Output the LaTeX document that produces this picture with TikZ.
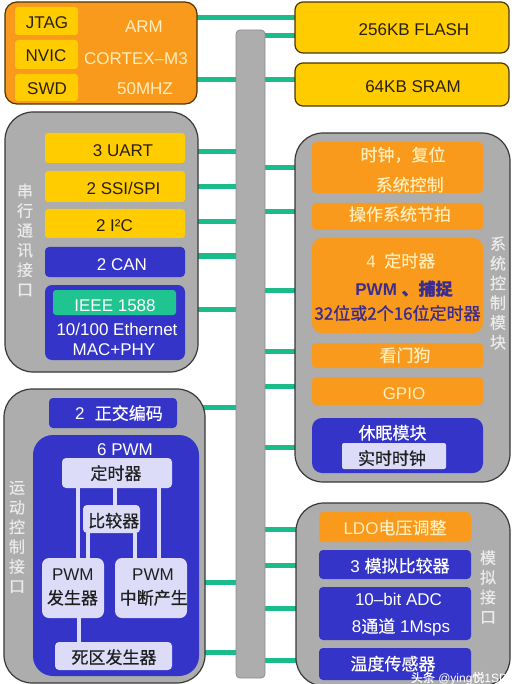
\documentclass[tikz,border=0pt]{standalone}
\usepackage{fontspec}
\setmainfont{Liberation Sans}
\newfontfamily\cjk{Noto Sans CJK SC}[FakeBold=0.5]
\newfontfamily\cjkb{Noto Sans CJK SC}[FakeBold=1.2]
\usetikzlibrary{calc,backgrounds}
\definecolor{orng}{HTML}{F99A1C}
\definecolor{ylw}{HTML}{FFCC00}
\definecolor{blu}{HTML}{3434C8}
\definecolor{gry}{HTML}{ADADAD}
\definecolor{grn}{HTML}{1ABC8C}
\definecolor{lav}{HTML}{DCDCF8}
\definecolor{cream}{HTML}{FFEDBC}
\definecolor{dtxt}{HTML}{2A2010}
\definecolor{ptxt}{HTML}{3B2C8E}
\definecolor{vtxt}{HTML}{EBEBEB}
\definecolor{ieee}{HTML}{20C490}
\definecolor{brd}{HTML}{4A3500}
\newcommand\mkbox[6][]{\pgfmathsetmacro\bw{#5-#3}\pgfmathsetmacro\bh{#6-#4}%
  \node[#1,minimum width=\bw pt,minimum height=\bh pt,anchor=north west,inner sep=0pt,outer sep=0pt] (#2) at (#3,#4) {};}
\begin{document}
\begin{tikzpicture}[x=1pt,y=-1pt,
  cpust/.style={draw=brd,line width=1.2pt,fill=orng,rounded corners=12pt},
  mem/.style={draw=brd,line width=1.2pt,fill=ylw,rounded corners=8pt},
  busst/.style={draw=black!45,line width=0.8pt,fill=gry,rounded corners=4pt},
  block/.style={draw=black!78,line width=1.2pt,fill=gry,rounded corners=28pt},
  ybox/.style={fill=ylw,rounded corners=3pt},
  obox/.style={fill=orng,rounded corners=4pt},
  bbox/.style={fill=blu,rounded corners=4pt},
  gbox/.style={fill=ieee,rounded corners=3pt},
  lbox/.style={fill=lav,rounded corners=4pt},
  link/.style={draw=grn,line width=5pt},
  ilink/.style={draw=lav,line width=4pt},
  t/.style={inner sep=0pt,text height=12.3pt,text depth=0pt,font=\fontsize{17}{20}\selectfont},
  tc/.style={t,font=\cjk\fontsize{17}{20}\selectfont},
  vt/.style={inner sep=0pt,align=center,text=vtxt,font=\cjk\fontsize{16}{19.7}\selectfont},
  dk/.style={text=dtxt},
  cr/.style={text=cream},
  wt/.style={text=white},
  pu/.style={text=ptxt},
  bk/.style={text=black!88}]
\useasboundingbox (0,0) rectangle (515,684);
\clip (0,0) rectangle (515,684);
% main blocks
\mkbox[cpust]{cpu}{5}{2}{197}{104}
\mkbox[mem]{flash}{295}{2}{509}{53}
\mkbox[mem]{sram}{295}{63}{509}{106}
\mkbox[busst]{bus}{236}{30}{265}{678}
\mkbox[block]{serial}{5}{112}{198}{372}
\mkbox[block]{sysctl}{295}{133}{510}{482}
\mkbox[block]{motion}{4}{389}{205}{683}
\mkbox[block]{analog}{296}{503}{510}{686}
% bus links
\begin{pgfonlayer}{background}
\draw[link] (cpu.center |- 0,18) -- (flash.center |- 0,18);
\draw[link] (bus.center |- 0,36) -- (flash.center |- 0,36);
\draw[link] (cpu.center |- 0,80) -- (sram.center |- 0,80);
\foreach \y in {152,187,222,256,309} \draw[link] (serial.center |- 0,\y) -- (bus.center |- 0,\y);
\foreach \y in {407,582,652} \draw[link] (motion.center |- 0,\y) -- (bus.center |- 0,\y);
\foreach \y in {168,212,290,351,386,447} \draw[link] (bus.center |- 0,\y) -- (sysctl.center |- 0,\y);
\foreach \y in {529,565,608,660} \draw[link] (bus.center |- 0,\y) -- (analog.center |- 0,\y);
\end{pgfonlayer}
% CPU
\mkbox[ybox]{jtag}{15}{7}{78}{35}
\mkbox[ybox]{nvic}{15}{40}{78}{69}
\mkbox[ybox]{swd}{15}{74}{78}{101}
\node[t,dk] (tjtag) at (47,22) {JTAG};
\node[t,dk] (tnvic) at (46,55) {NVIC};
\node[t,dk] (tswd) at (47,88) {SWD};
\node[t,cr] (tarm) at (144,26) {ARM};
\node[t,cr] (tcortex) at (136,58) {CORTEX–M3};
\node[t,cr] (tmhz) at (145,88) {50MHZ};
\node[t,dk] (tflash) at (414,29) {256KB FLASH};
\node[t,dk] (tsram) at (413,86) {64KB SRAM};
% serial
\mkbox[ybox]{uart}{45}{133}{185}{163}
\mkbox[ybox]{ssi}{45}{171}{185}{202}
\mkbox[ybox]{iic}{45}{209}{185}{238}
\mkbox[bbox]{can}{45}{247}{185}{277}
\mkbox[bbox,rounded corners=7pt]{eth}{45}{285}{185}{360}
\mkbox[gbox]{ieeebox}{53}{290}{176}{315}
\node[t,dk] (tuart) at (123,150) {3 UART};
\node[t,dk] (tssi) at (123.5,188) {2 SSI/SPI};
\node[t,dk] (tiic) at (114.5,225) {2 I²C};
\node[t,wt] (tcan) at (122,264.5) {2 CAN};
\node[t,wt] (tieee) at (115,305) {IEEE 1588};
\node[t,wt] (teth) at (117,329) {10/100 Ethernet};
\node[t,wt] (tmac) at (114,349.5) {MAC+PHY};
\node[vt] (vserial) at (25,240) {串\\行\\通\\讯\\接\\口};
% system control
\mkbox[obox]{clk}{312}{142}{483}{193}
\mkbox[obox]{ostick}{312}{203}{483}{230}
\mkbox[obox,rounded corners=10pt]{timers}{312}{238}{483}{333}
\mkbox[obox]{wdog}{312}{343}{483}{368}
\mkbox[obox]{gpio}{312}{377}{483}{405}
\mkbox[bbox,rounded corners=10pt]{sleep}{312}{418}{483}{473}
\mkbox[lbox,rounded corners=2pt]{rtc}{342}{443}{446}{469}
\node[tc,cr] (tclk) at (403,155) {时钟，复位};
\node[tc,cr] (tsys) at (409.7,185) {系统控制};
\node[tc,cr] (tos) at (400,214.5) {操作系统节拍};
\node[t,cr] (ttim) at (400.8,261) {4\hspace{0.5em}{\cjk 定时器}};
\node[t,pu] (tpwmcap) at (404,289) {\bfseries PWM {\cjkb 、捕捉}};
\node[t,pu] (t32) at (397.5,313.5) {\cjkb 32位或2个16位定时器};
\node[tc,cr] (twdog) at (405,355.5) {看门狗};
\node[t,cr] (tgpio) at (404,393.5) {GPIO};
\node[tc,wt] (tsleep) at (392.5,433) {休眠模块};
\node[tc,bk] (trtc) at (392,458.5) {实时时钟};
\node[vt] (vsys) at (498,293) {系\\统\\控\\制\\模\\块};
% analog
\mkbox[obox]{ldo}{319}{512}{471}{542}
\mkbox[bbox]{acmp}{319}{550}{471}{579}
\mkbox[bbox]{adc}{319}{587}{471}{640}
\mkbox[bbox]{temp}{319}{648}{471}{680}
\node[t,cr] (tldo) at (395,528) {LDO{\cjk 电压调整}};
\node[t,wt] (tacmp) at (400,566) {3 {\cjk 模拟比较器}};
\node[t,wt] (tadc) at (398.5,599.5) {10–bit ADC};
\node[t,wt] (tadc2) at (401,626.5) {8{\cjk 通道} 1Msps};
\node[tc,wt] (ttemp) at (393,664) {温度传感器};
\node[vt] (vana) at (488,587) {模\\拟\\接\\口};
% motion control
\mkbox[bbox]{qei}{49}{398}{177}{428}
\mkbox[bbox,rounded corners=20pt]{pwmblk}{33}{435}{199}{676}
\mkbox[lbox]{tmr}{62}{458}{172}{488}
\mkbox[lbox]{cmpr}{83}{505}{140}{533}
\mkbox[lbox,rounded corners=7pt]{pwmgen}{42}{558}{104}{618}
\mkbox[lbox,rounded corners=7pt]{pwmint}{115}{558}{187}{618}
\mkbox[lbox]{dead}{55}{642}{172}{670}
\draw[ilink] (tmr.south -| 78,0) -- (pwmgen.north -| 78,0);
\draw[ilink] (tmr.south -| 115,0) -- (cmpr.north -| 115,0);
\draw[ilink] (tmr.south -| 159,0) -- (pwmint.north -| 159,0);
\draw[ilink] (cmpr.south -| 88,0) -- (pwmgen.north -| 88,0);
\draw[ilink] (cmpr.south -| 135,0) -- (pwmint.north -| 135,0);
\draw[ilink] (pwmgen.south -| 79,0) -- (dead.north -| 79,0);
\node[t,wt] (tqei) at (119,413.5) {2\hspace{0.6em}{\cjk 正交编码}};
\node[t,wt] (t6pwm) at (125,449.5) {6 PWM};
\node[tc,bk] (ttmr) at (116,473.5) {定时器};
\node[tc,bk] (tcmpr) at (113.7,521) {比较器};
\node[t,bk] (tpg1) at (72.8,574.5) {PWM};
\node[tc,bk] (tpg2) at (72.5,598) {发生器};
\node[t,bk] (tpi1) at (153,574.5) {PWM};
\node[tc,bk] (tpi2) at (153.7,598) {中断产生};
\node[tc,bk] (tdead) at (114,657.5) {死区发生器};
\node[vt] (vmot) at (17,537) {运\\动\\控\\制\\接\\口};
% watermark
\node[inner sep=0pt,text=white,font=\fontsize{12}{14}\selectfont,anchor=base east] (wm) at (508,682) {{\cjk 头条} @ying{\cjk 悦}1SD};
\end{tikzpicture}
\end{document}
